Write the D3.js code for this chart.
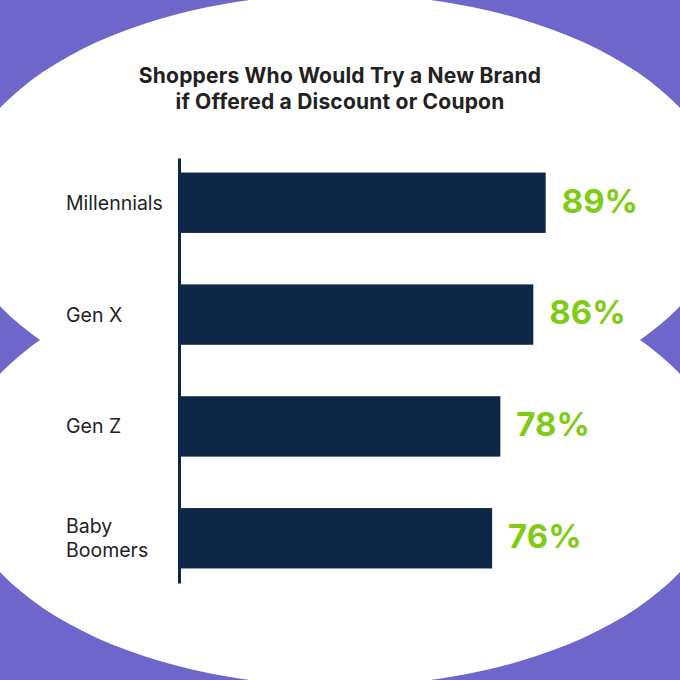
<!DOCTYPE html>
<html>
<head>
<meta charset="utf-8">
<script src="https://cdn.jsdelivr.net/npm/d3@7"></script>
<style>
  html, body { margin: 0; padding: 0; background: #fff; }
  svg { display: block; }
</style>
</head>
<body>
<div id="chart"></div>
<script>
// data
var groups = ["Millennials", "Gen X", "Gen Z", "Baby Boomers"];
var shares = [89, 86, 78, 76];
var groupLines = [["Millennials"], ["Gen X"], ["Gen Z"], ["Baby", "Boomers"]];
var titleLines = ["Shoppers Who Would Try a New Brand", "if Offered a Discount or Coupon"];

var width = 680, height = 680;
var purple = "#6f66cb", navy = "#0f2747", green = "#7fcb16";

var svg = d3.select("#chart").append("svg")
  .attr("width", width)
  .attr("height", height);

// background: purple with two overlapping white ovals
svg.append("rect").attr("width", width).attr("height", height).attr("fill", purple);
svg.selectAll("ellipse.bg")
  .data([207, 473])
  .enter()
  .append("ellipse")
  .attr("class", "bg")
  .attr("cx", 340)
  .attr("cy", function(d) { return d; })
  .attr("rx", 384)
  .attr("ry", 213)
  .attr("fill", "#fff");

// title
svg.append("g")
  .selectAll("text")
  .data(titleLines)
  .enter()
  .append("text")
  .attr("x", 340)
  .attr("y", function(d, i) { return 83 + i * 26; })
  .attr("text-anchor", "middle")
  .style("font-family", "Inter, 'Noto Sans', sans-serif")
  .style("font-weight", 700)
  .style("font-size", "21px")
  .style("letter-spacing", "0.2px")
  .style("fill", "#222")
  .text(function(d) { return d; });

var x = d3.scaleLinear().domain([0, 100]).range([179, 591]);
var y = d3.scaleBand().domain(groups).range([158, 583]).paddingInner(0.46).paddingOuter(0.13);

// bars
svg.selectAll("rect.bar")
  .data(shares)
  .enter()
  .append("rect")
  .attr("class", "bar")
  .attr("x", x(0))
  .attr("y", function(d, i) { return y(groups[i]); })
  .attr("width", function(d) { return x(d) - x(0); })
  .attr("height", y.bandwidth())
  .attr("fill", navy);

// left axis, line only
var ax = svg.append("g")
  .attr("transform", "translate(" + x(0) + ",0)")
  .call(d3.axisLeft(y).tickSize(0).tickSizeOuter(0).tickFormat(""));
ax.select(".domain").attr("stroke", navy).attr("stroke-width", 3);

// category labels
var lab = svg.selectAll("text.cat")
  .data(groups)
  .enter()
  .append("text")
  .attr("class", "cat")
  .style("font-family", "Inter, 'Noto Sans', sans-serif")
  .style("font-size", "19.5px")
  .style("fill", "#222");
lab.each(function(d, i) {
  var lines = groupLines[i];
  var cy = y(d) + y.bandwidth() / 2;
  d3.select(this).selectAll("tspan")
    .data(lines)
    .enter()
    .append("tspan")
    .attr("x", 66)
    .attr("y", function(l, j) { return cy + (j - (lines.length - 1) / 2) * 24; })
    .attr("dy", "0.36em")
    .text(function(l) { return l; });
});

// value labels
svg.selectAll("text.val")
  .data(shares)
  .enter()
  .append("text")
  .attr("class", "val")
  .attr("x", function(d) { return x(d) + 16; })
  .attr("y", function(d, i) { return y(groups[i]) + y.bandwidth() / 2 - 2; })
  .attr("dy", "0.36em")
  .style("font-family", "Inter, 'Noto Sans', sans-serif")
  .style("font-weight", 700)
  .style("font-size", "33px")
  .style("fill", green)
  .text(function(d) { return d + "%"; });
</script>
</body>
</html>
